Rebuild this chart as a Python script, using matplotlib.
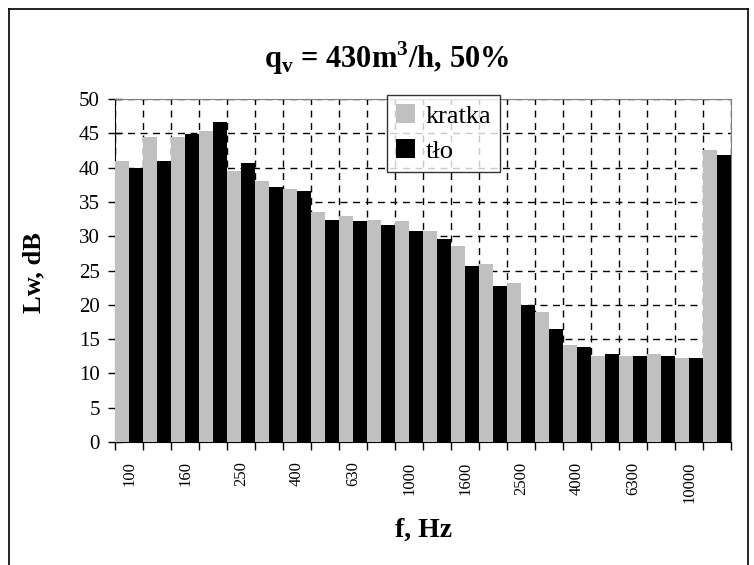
import matplotlib
matplotlib.use("Agg")
import matplotlib.pyplot as plt
from matplotlib.lines import Line2D
import numpy as np

# 1/3-octave band centres; the last, unlabelled column is the overall level
bands = ["100", "125", "160", "200", "250", "315", "400", "500", "630", "800",
         "1000", "1250", "1600", "2000", "2500", "3150", "4000", "5000", "6300",
         "8000", "10000", ""]
kratka = [41.0, 44.5, 44.5, 45.4, 39.5, 38.0, 36.9, 33.6, 33.0, 32.4, 32.2,
          30.7, 28.6, 25.9, 23.2, 19.0, 14.2, 12.5, 12.5, 12.8, 12.2, 42.5]
tlo = [39.9, 41.0, 44.9, 46.6, 40.7, 37.2, 36.6, 32.4, 32.2, 31.6, 30.7,
       29.6, 25.7, 22.7, 19.9, 16.5, 13.9, 12.8, 12.5, 12.5, 12.2, 41.8]
y_ticks = list(range(0, 51, 5))

plt.rcParams["font.family"] = ["Liberation Serif", "DejaVu Serif"]
plt.rcParams["mathtext.fontset"] = "custom"
plt.rcParams["mathtext.rm"] = "Liberation Serif:bold"

W, H = 754, 565
fig = plt.figure(figsize=(W / 100, H / 100), dpi=100)
fig.patch.set_facecolor("white")

# plot area in pixel coordinates
left, right, top, bottom = 115, 731, 99, 442
ax = fig.add_axes([left / W, 1 - bottom / H, (right - left) / W, (bottom - top) / H])

x = np.arange(len(bands))
ax.bar(x - 0.25, kratka, width=0.5, color="#c0c0c0", label="kratka", zorder=3)
ax.bar(x + 0.25, tlo, width=0.5, color="black", label="tło", zorder=3)

ax.set_xlim(-0.5, len(bands) - 0.5)
ax.set_ylim(0, 50)
ax.set_yticks(y_ticks)
ax.tick_params(axis="y", labelsize=15, direction="inout", length=10, width=1, pad=6)

# ticks on category boundaries, labels on every second band centre
ax.set_xticks(np.arange(len(bands) + 1) - 0.5)
ax.set_xticklabels([])
ax.tick_params(axis="x", which="major", direction="out", length=6, width=1)
ax.set_xticks(x[:-1:2], minor=True)
ax.set_xticklabels([bands[i] for i in x[:-1:2]], minor=True, rotation=90,
                   fontsize=12)
ax.tick_params(axis="x", which="minor", length=0, pad=14)

ax.grid(True, which="major", color="black", linestyle=(0, (5, 4)),
        linewidth=1, zorder=0)
ax.set_axisbelow(True)

for side in ("top", "right"):
    ax.spines[side].set_color("#808080")
for side in ("left", "bottom"):
    ax.spines[side].set_color("black")

fig.text(34 / W, 1 - 273 / H, "Lw, dB", rotation=90, ha="center", va="center",
         fontsize=19, fontweight="bold")
fig.text(424 / W, 1 - 530 / H, "f, Hz", ha="center", va="center",
         fontsize=20, fontweight="bold")
fig.text(387 / W, 1 - 58 / H, r"q$_\mathrm{v}$ = 430m$^\mathrm{3}$/h, 50%",
         ha="center", va="center", fontsize=22, fontweight="bold")

leg = ax.legend(loc="upper left", bbox_to_anchor=((387 - left) / (right - left), 1.012),
                fontsize=19, frameon=True, fancybox=False, borderpad=0.35,
                handlelength=0.7, handleheight=0.7, handletextpad=0.4,
                labelspacing=0.45, borderaxespad=0)
leg.get_frame().set_edgecolor("black")
leg.get_frame().set_linewidth(1)
leg.set_zorder(5)

# outer chart frame, open at the bottom
for xs, ys in [((9, 9), (9, H)), ((9, 748), (9, 9)), ((748, 748), (9, H))]:
    fig.add_artist(Line2D([v / W for v in xs], [1 - v / H for v in ys],
                          color="black", linewidth=1.2))

fig.savefig("out.png", dpi=100)
